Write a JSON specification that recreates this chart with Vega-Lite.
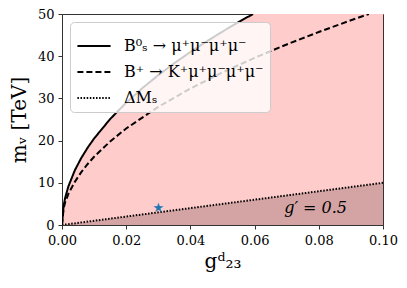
{
  "$schema": "https://vega.github.io/schema/vega-lite/v6.json",
  "width": 321,
  "height": 211,
  "autosize": "none",
  "padding": {"left": 62, "top": 14, "right": 24, "bottom": 63},
  "background": "white",
  "config": {
    "view": {"stroke": "#333333", "strokeWidth": 1},
    "font": "DejaVu Serif",
    "axis": {"grid": false, "labelFont": "DejaVu Serif", "titleFont": "DejaVu Serif", "labelColor": "#000", "titleColor": "#000", "tickColor": "#333", "domainColor": "#333", "labelFontSize": 13, "tickSize": 4, "labelFlush": false}
  },
  "datasets": {
    "region": [
      {"x": 0, "y": 0}, {"x": 0.0005, "y": 4.58}, {"x": 0.001, "y": 6.48}, {"x": 0.002, "y": 9.17},
      {"x": 0.004, "y": 12.97}, {"x": 0.006, "y": 15.88}, {"x": 0.008, "y": 18.34}, {"x": 0.01, "y": 20.5},
      {"x": 0.015, "y": 25.11}, {"x": 0.02, "y": 28.99}, {"x": 0.025, "y": 32.41}, {"x": 0.03, "y": 35.51},
      {"x": 0.035, "y": 38.35}, {"x": 0.04, "y": 41.0}, {"x": 0.045, "y": 43.49}, {"x": 0.05, "y": 45.84},
      {"x": 0.055, "y": 48.08}, {"x": 0.0595, "y": 50.0}, {"x": 0.1, "y": 50.0}
    ],
    "dm": [{"x": 0, "y": 0}, {"x": 0.1, "y": 10}],
    "curves": [
      {"s": "B⁰ₛ → μ⁺μ⁻μ⁺μ⁻", "x": 0, "y": 0},
      {"s": "B⁰ₛ → μ⁺μ⁻μ⁺μ⁻", "x": 0.0005, "y": 4.58},
      {"s": "B⁰ₛ → μ⁺μ⁻μ⁺μ⁻", "x": 0.001, "y": 6.48},
      {"s": "B⁰ₛ → μ⁺μ⁻μ⁺μ⁻", "x": 0.002, "y": 9.17},
      {"s": "B⁰ₛ → μ⁺μ⁻μ⁺μ⁻", "x": 0.004, "y": 12.97},
      {"s": "B⁰ₛ → μ⁺μ⁻μ⁺μ⁻", "x": 0.006, "y": 15.88},
      {"s": "B⁰ₛ → μ⁺μ⁻μ⁺μ⁻", "x": 0.008, "y": 18.34},
      {"s": "B⁰ₛ → μ⁺μ⁻μ⁺μ⁻", "x": 0.01, "y": 20.5},
      {"s": "B⁰ₛ → μ⁺μ⁻μ⁺μ⁻", "x": 0.015, "y": 25.11},
      {"s": "B⁰ₛ → μ⁺μ⁻μ⁺μ⁻", "x": 0.02, "y": 28.99},
      {"s": "B⁰ₛ → μ⁺μ⁻μ⁺μ⁻", "x": 0.025, "y": 32.41},
      {"s": "B⁰ₛ → μ⁺μ⁻μ⁺μ⁻", "x": 0.03, "y": 35.51},
      {"s": "B⁰ₛ → μ⁺μ⁻μ⁺μ⁻", "x": 0.035, "y": 38.35},
      {"s": "B⁰ₛ → μ⁺μ⁻μ⁺μ⁻", "x": 0.04, "y": 41.0},
      {"s": "B⁰ₛ → μ⁺μ⁻μ⁺μ⁻", "x": 0.045, "y": 43.49},
      {"s": "B⁰ₛ → μ⁺μ⁻μ⁺μ⁻", "x": 0.05, "y": 45.84},
      {"s": "B⁰ₛ → μ⁺μ⁻μ⁺μ⁻", "x": 0.055, "y": 48.08},
      {"s": "B⁰ₛ → μ⁺μ⁻μ⁺μ⁻", "x": 0.0595, "y": 50.0},
      {"s": "B⁺ → K⁺μ⁺μ⁻μ⁺μ⁻", "x": 0, "y": 0},
      {"s": "B⁺ → K⁺μ⁺μ⁻μ⁺μ⁻", "x": 0.0005, "y": 3.9},
      {"s": "B⁺ → K⁺μ⁺μ⁻μ⁺μ⁻", "x": 0.001, "y": 5.4},
      {"s": "B⁺ → K⁺μ⁺μ⁻μ⁺μ⁻", "x": 0.002, "y": 7.4},
      {"s": "B⁺ → K⁺μ⁺μ⁻μ⁺μ⁻", "x": 0.004, "y": 10.23},
      {"s": "B⁺ → K⁺μ⁺μ⁻μ⁺μ⁻", "x": 0.006, "y": 12.53},
      {"s": "B⁺ → K⁺μ⁺μ⁻μ⁺μ⁻", "x": 0.008, "y": 14.46},
      {"s": "B⁺ → K⁺μ⁺μ⁻μ⁺μ⁻", "x": 0.01, "y": 16.17},
      {"s": "B⁺ → K⁺μ⁺μ⁻μ⁺μ⁻", "x": 0.015, "y": 19.8},
      {"s": "B⁺ → K⁺μ⁺μ⁻μ⁺μ⁻", "x": 0.02, "y": 22.87},
      {"s": "B⁺ → K⁺μ⁺μ⁻μ⁺μ⁻", "x": 0.03, "y": 28.01},
      {"s": "B⁺ → K⁺μ⁺μ⁻μ⁺μ⁻", "x": 0.04, "y": 32.34},
      {"s": "B⁺ → K⁺μ⁺μ⁻μ⁺μ⁻", "x": 0.05, "y": 36.16},
      {"s": "B⁺ → K⁺μ⁺μ⁻μ⁺μ⁻", "x": 0.06, "y": 39.61},
      {"s": "B⁺ → K⁺μ⁺μ⁻μ⁺μ⁻", "x": 0.07, "y": 42.78},
      {"s": "B⁺ → K⁺μ⁺μ⁻μ⁺μ⁻", "x": 0.08, "y": 45.74},
      {"s": "B⁺ → K⁺μ⁺μ⁻μ⁺μ⁻", "x": 0.09, "y": 48.51},
      {"s": "B⁺ → K⁺μ⁺μ⁻μ⁺μ⁻", "x": 0.0956, "y": 50.0},
      {"s": "ΔMₛ", "x": 0, "y": 0},
      {"s": "ΔMₛ", "x": 0.1, "y": 10}
    ],
    "star": [{"x": 0.03, "y": 4.0}],
    "note": [{"x": 0.079, "y": 4.0, "t": "g′ = 0.5"}]
  },
  "layer": [
    {
      "data": {"name": "region"},
      "mark": {"type": "area", "color": "#FFCCCC", "clip": true},
      "encoding": {
        "x": {"field": "x", "type": "quantitative", "scale": {"domain": [0, 0.1], "nice": false},
          "axis": {"values": [0, 0.02, 0.04, 0.06, 0.08, 0.1], "format": ".2f", "title": "gᵈ₂₃", "titleFontSize": 20, "titleFontWeight": "normal", "titlePadding": 4, "labelPadding": 5, "labelFont": "DejaVu Serif"}},
        "y": {"field": "y", "type": "quantitative", "scale": {"domain": [0, 50], "nice": false},
          "axis": {"values": [0, 10, 20, 30, 40, 50], "title": "mᵥ [TeV]", "titleFontSize": 20, "titleFontWeight": "normal", "titlePadding": 8, "labelPadding": 4, "labelFont": "DejaVu Serif"}}
      }
    },
    {
      "data": {"name": "dm"},
      "mark": {"type": "area", "color": "#D4A4A4", "clip": true},
      "encoding": {
        "x": {"field": "x", "type": "quantitative"},
        "y": {"field": "y", "type": "quantitative"}
      }
    },
    {
      "data": {"name": "curves"},
      "mark": {"type": "line", "color": "black", "strokeWidth": 2, "clip": true},
      "encoding": {
        "x": {"field": "x", "type": "quantitative"},
        "y": {"field": "y", "type": "quantitative"},
        "detail": {"field": "s"},
        "strokeDash": {
          "field": "s", "type": "nominal",
          "scale": {"domain": ["B⁰ₛ → μ⁺μ⁻μ⁺μ⁻", "B⁺ → K⁺μ⁺μ⁻μ⁺μ⁻", "ΔMₛ"], "range": [[1, 0], [6, 3], [1.5, 1.6]]},
          "legend": {
            "title": null, "orient": "none", "legendX": 8, "legendY": 8,
            "symbolType": "stroke", "symbolSize": 1100, "symbolStrokeWidth": 2, "symbolStrokeColor": "black",
            "labelFontSize": 16, "labelFont": "DejaVu Serif", "labelColor": "black", "labelLimit": 300,
            "rowPadding": -6, "padding": 6, "labelOffset": 12,
            "fillColor": "rgba(255,255,255,0.8)", "strokeColor": "#cccccc", "cornerRadius": 4
          }
        }
      }
    },
    {
      "data": {"name": "star"},
      "mark": {"type": "text", "text": "★", "color": "#1f77b4", "fontSize": 13, "baseline": "middle", "align": "center", "font": "DejaVu Sans"},
      "encoding": {"x": {"field": "x", "type": "quantitative"}, "y": {"field": "y", "type": "quantitative"}}
    },
    {
      "data": {"name": "note"},
      "mark": {"type": "text", "fontSize": 16, "fontStyle": "italic", "font": "DejaVu Serif", "baseline": "middle", "align": "center", "color": "#000"},
      "encoding": {"x": {"field": "x", "type": "quantitative"}, "y": {"field": "y", "type": "quantitative"}, "text": {"field": "t"}}
    }
  ]
}
